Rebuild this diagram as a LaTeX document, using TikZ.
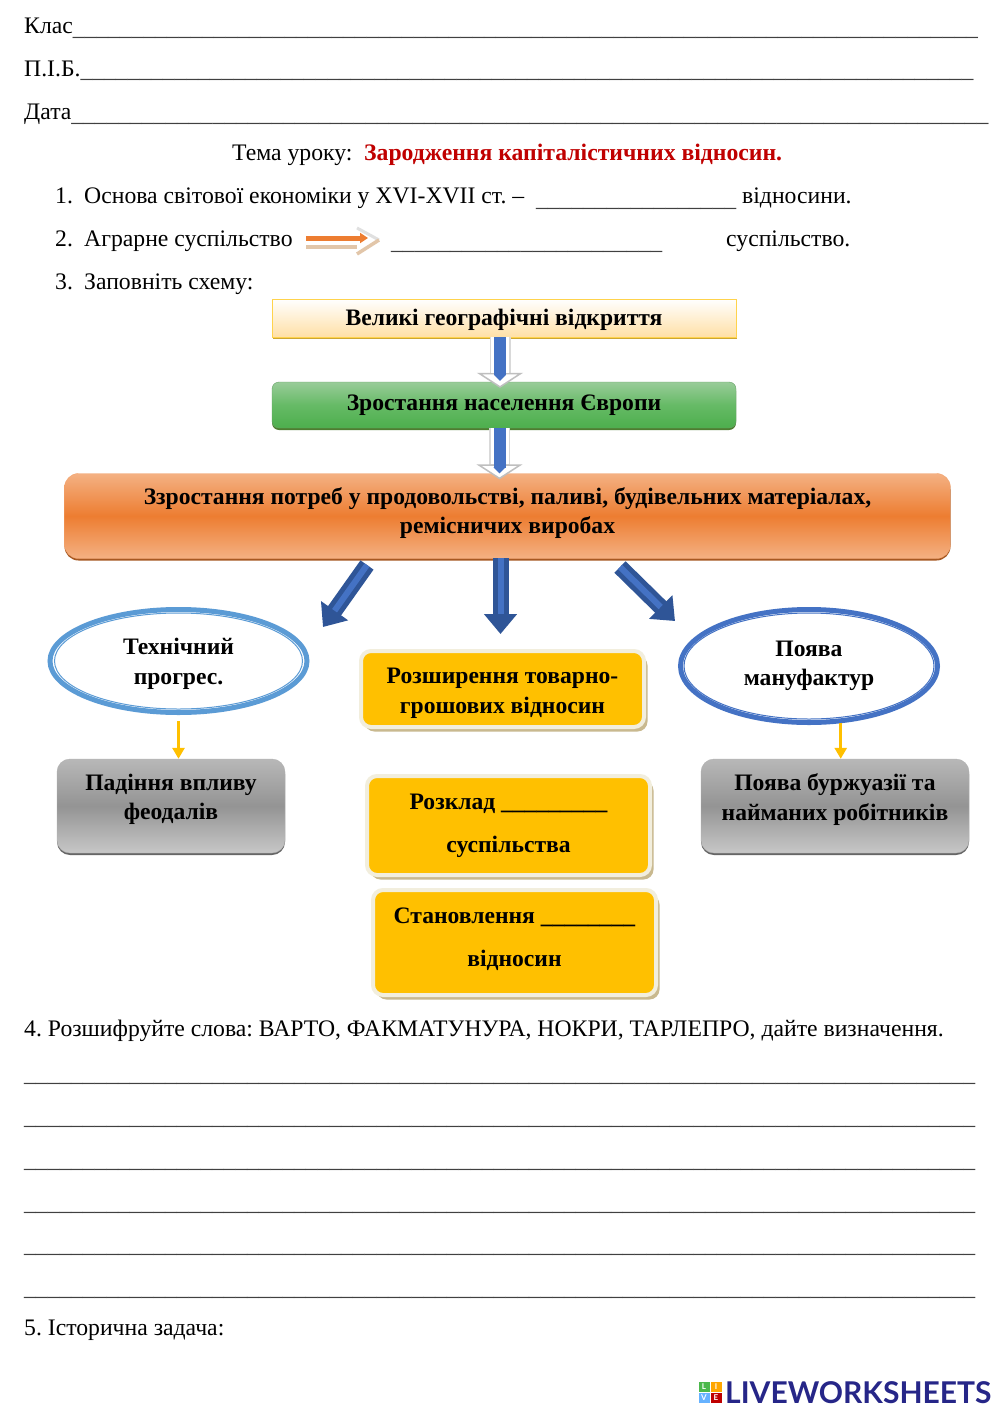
\documentclass[tikz,border=0pt]{standalone}
\usepackage{fontspec}
\setmainfont{Liberation Serif}
\newfontfamily\logofont{Lato}
\usetikzlibrary{shapes.geometric, arrows.meta, shadows}
\definecolor{blueD}{HTML}{2F5597}
\definecolor{blueL}{HTML}{4472C4}
\definecolor{ringA}{HTML}{5B9BD5}
\definecolor{goldbox}{HTML}{FFC000}
\definecolor{peach}{HTML}{F4B183}
\definecolor{orangem}{HTML}{ED7D31}
\definecolor{titlered}{HTML}{C00000}
\definecolor{halo}{HTML}{F2EEDD}
\definecolor{haloshade}{HTML}{C9B98F}
\definecolor{greenD}{HTML}{4E7D30}
\newcommand{\blanks}[1]{\pgfmathtruncatemacro{\nb}{ceil(#1/11.85)}\pgfmathsetmacro{\kb}{(#1-\nb*11.85)/(\nb-1)}\foreach \ub in {1,...,\nb}{\textcolor{black!75}{\_}\kern\kb pt}}
\tikzstyle{txt} = [anchor=base west, inner sep=0pt, font=\fontsize{23.7}{28}\selectfont]
\tikzstyle{head} = [align=center, inner sep=0pt, font=\fontsize{23.6}{29.5}\selectfont\bfseries]
\tikzstyle{yellowbox} = [rectangle, head, minimum width=464pt, minimum height=38pt, draw=goldbox!70, top color=white, bottom color=yellow!30!orange!35!white, general shadow={fill=black!25!goldbox!80, shadow xshift=0.5pt, shadow yshift=-2pt}]
\tikzstyle{greenbox} = [rectangle, rounded corners=7pt, head, minimum width=464pt, minimum height=46pt, draw=green!40!black!60, top color=green!50!black!40!white, bottom color=green!55!black!70, middle color=green!55!black!60, general shadow={fill=greenD, shadow yshift=-2pt}]
\tikzstyle{orangebox} = [rectangle, rounded corners=14pt, head, minimum width=886pt, minimum height=85pt, draw=orangem!70, top color=peach, bottom color=peach, middle color=orangem, general shadow={fill=orangem!70!black, shadow yshift=-2pt}]
\tikzstyle{greybox} = [rectangle, rounded corners=13pt, head, minimum height=94pt, draw=black!30, top color=black!28, bottom color=black!22, middle color=black!42, general shadow={fill=black!60, shadow yshift=-2pt}]
\tikzstyle{goldnode} = [rectangle, rounded corners=10pt, head, minimum width=283pt, draw=halo, line width=4pt, fill=goldbox, general shadow={fill=haloshade, shadow xshift=3.5pt, shadow yshift=-4.5pt}]
\tikzstyle{oval} = [ellipse, head, line width=5pt, fill=white, minimum width=257pt]
\tikzstyle{ring} = [line width=1pt]
\tikzstyle{bigarrow} = [draw=blueD, line width=16pt, -{Triangle[width=32pt, length=20pt]}, postaction={draw=blueL, -, line width=6pt, shorten >=20pt}]
\tikzstyle{palearrow} = [draw=black!15, line width=21pt, -{Triangle[width=46pt, length=15pt, color=black!25, fill=white, line width=1.5pt]}, postaction={draw=white, -, line width=18pt, shorten >=15pt}]
\tikzstyle{innerarrow} = [draw=blueL, line width=12pt, -{Triangle[width=12pt, length=6pt]}]
\tikzstyle{smallarrow} = [draw=goldbox, line width=3.5pt, -{Triangle[width=12pt, length=11pt]}]
\tikzstyle{tile} = [rectangle, minimum width=11pt, minimum height=10pt, inner sep=0pt, text=white, font=\logofont\fontsize{8}{8}\selectfont\bfseries]

\begin{document}
\frenchspacing
\begin{tikzpicture}[x=1pt, y=-1pt, node distance=87pt]
  \fill[white] (0,0) rectangle (1000,1413);
  \useasboundingbox (0,0) rectangle (1000,1413);

  % header
  \node (klas) [txt] at (24,33.5) {Клас\raisebox{-2pt}{\blanks{905}}};
  \node (pib) [txt] at (24,77) {П.І.Б.\raisebox{-1pt}{\blanks{893}}};
  \node (data) [txt] at (24,119) {Дата\raisebox{-2pt}{\blanks{917}}};
  \node (tema) [txt] at (232,160) {Тема уроку:};
  \node (temared) [txt, text=titlered, font=\fontsize{23.7}{28}\selectfont\bfseries] at (364,160) {Зародження капіталістичних відносин.};

  % tasks
  \node (n1) [txt] at (55,203) {1.};
  \node (t1) [txt] at (84,203) {Основа світової економіки у XVI-XVII ст. –};
  \node (b1) [txt] at (536,206) {\blanks{200}};
  \node (e1) [txt] at (742,203) {відносини.};
  \node (n2) [txt] at (55,246) {2.};
  \node (t2) [txt] at (84,246) {Аграрне суспільство};
  \node (b2) [txt] at (391,249) {\blanks{271}};
  \node (e2) [txt] at (726,246) {суспільство.};
  \node (n3) [txt] at (55,289) {3.};
  \node (t3) [txt] at (84,289) {Заповніть схему:};

  % little arrow of task 2
  \coordinate (sa) at (306,238);
  \coordinate (sb) at (368,238);
  \coordinate (sc) at (306,247);
  \coordinate (sd) at (357,247);
  \coordinate (se) at (379,240);
  \coordinate (sf) at (357,254);
  \coordinate (sg) at (357,228);
  \draw [draw=black!12, line width=3pt] (sg) -- (se);
  \draw [draw=brown!45!white, line width=3.5pt] (sc) -- (sd);
  \draw [draw=brown!45!white, line width=3.5pt] (se) -- (sf);
  \draw [draw=orangem, line width=5pt, -{Triangle[width=10pt, length=8pt]}] (sa) -- (sb);

  % scheme
  \node (geo) [yellowbox, text height=20pt] at (504,318) {Великі географічні відкриття};
  \node (pop) [greenbox, below of=geo] {Зростання населення Європи};
  \node (needs) [orangebox, below of=pop, yshift=-24pt, xshift=3.5pt, text depth=11pt] {Ззростання потреб у продовольстві, паливі, будівельних матеріалах,\\ремісничих виробах};

  \node (tech) [oval, draw=ringA, minimum height=103pt, text height=52pt] at (178.5,661) {Технічний\\прогрес.};
  \node (manuf) [oval, draw=blueL, minimum height=113pt] at (809,666) {Поява\\мануфактур};
  \draw [ring, draw=ringA] (tech.center) ellipse (124 and 48);
  \draw [ring, draw=blueL] (manuf.center) ellipse (125 and 53);

  \node (market) [goldnode, minimum height=76pt, text height=54pt] at (502.5,689) {Розширення товарно-\\грошових відносин};
  \node (uklad) [goldnode, minimum height=99pt, font=\fontsize{23.6}{43}\selectfont\bfseries] at (508.5,825.5) {Розклад \_\_\_\_\_\_\_\_\_\\суспільства};
  \node (stan) [goldnode, minimum height=105pt, text depth=10pt, font=\fontsize{23.6}{43}\selectfont\bfseries] at (514.5,942.5) {Становлення \_\_\_\_\_\_\_\_\\відносин};

  \node (fall) [greybox, minimum width=228pt, text depth=18pt] at (171,806) {Падіння впливу\\феодалів};
  \node (bourg) [greybox, minimum width=268pt, text depth=18pt] at (835,806) {Поява буржуазії та\\найманих робітників};

  % arrows
  \draw [palearrow] ([xshift=-4pt]geo.south) -- ([xshift=-4pt, yshift=-6pt]pop.north);
  \draw [innerarrow] ([xshift=-4pt]geo.south) -- ([xshift=-4pt, yshift=1pt]pop.north);
  \draw [palearrow] ([xshift=-4.5pt]pop.south) -- ([xshift=-8pt, yshift=-6pt]needs.north);
  \draw [innerarrow] ([xshift=-4.5pt]pop.south) -- ([xshift=-8pt]needs.north);

  \coordinate (la) at (367,565);
  \coordinate (lb) at (323,627);
  \coordinate (ma) at (500.5,558);
  \coordinate (mb) at (500.5,634);
  \coordinate (ra) at (620,567);
  \coordinate (rb) at (675,621);
  \draw [bigarrow] (la) -- (lb);
  \draw [bigarrow] (ma) -- (mb);
  \draw [bigarrow] (ra) -- (rb);

  \draw [smallarrow, shorten <=6pt] (tech.south) -- (tech.south |- fall.north);
  \draw [smallarrow] (manuf.-61) -- (manuf.-61 |- bourg.north);

  % bottom
  \node (t4) [txt] at (24,1036) {4. Розшифруйте слова: ВАРТО, ФАКМАТУНУРА, НОКРИ, ТАРЛЕПРО, дайте визначення.};
  \foreach \yy/\nm in {1081/a,1124/b,1167/c,1210/d,1252/e,1295/f}
    \node (line\nm) [txt] at (24,\yy) {\blanks{951}};
  \node (t5) [txt] at (24,1335) {5. Історична задача:};

  % logo
  \node (tl) [tile, fill=green!60!black!70] at (704,1387) {L};
  \node (ti) [tile, fill=orange!70!yellow] at (716,1387) {I};
  \node (tv) [tile, fill=blue!50!cyan!60] at (704,1398) {V};
  \node (te) [tile, fill=red!75!black] at (716,1398) {E};
  \node (logo) [anchor=base west, inner sep=0pt, text=blue!45!black!85, font=\logofont\fontsize{30}{30}\selectfont\bfseries] at (725,1403) {LIVEWORKSHEETS};
\end{tikzpicture}
\end{document}
